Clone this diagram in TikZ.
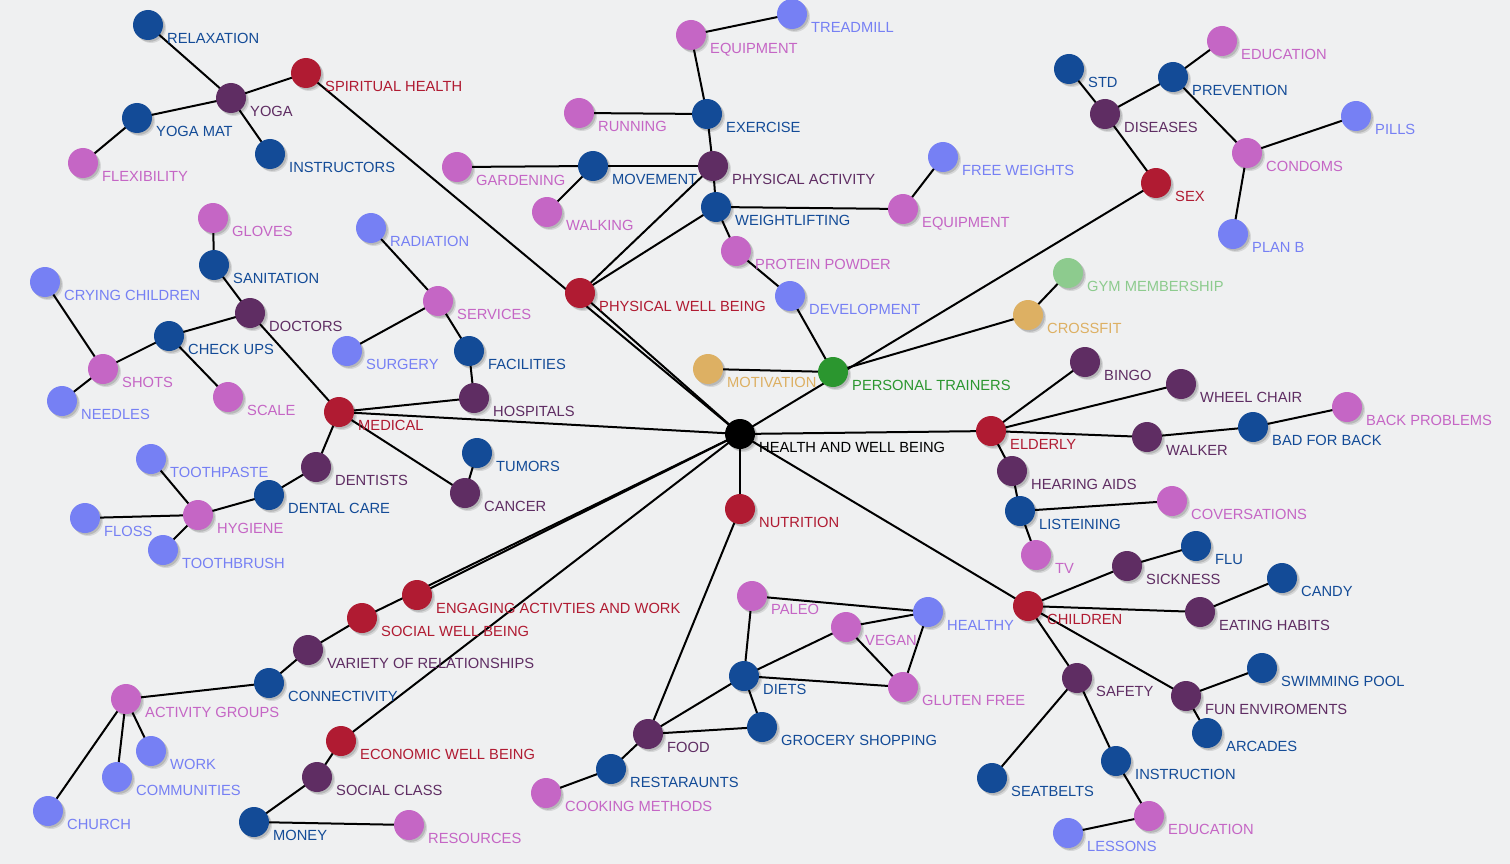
\documentclass[tikz,border=0pt]{standalone}
\usepackage{fontspec}
\setmainfont{Liberation Sans}
\usetikzlibrary{shadows}
\definecolor{bgc}{HTML}{EFF0F1}
\definecolor{cR}{HTML}{B01B32}
\definecolor{cP}{HTML}{5F2D63}
\definecolor{cB}{HTML}{134B97}
\definecolor{cM}{HTML}{C566C5}
\definecolor{cL}{HTML}{7680F4}
\definecolor{cG}{HTML}{2B962F}
\definecolor{cg}{HTML}{8DCB8E}
\definecolor{cO}{HTML}{DDB063}
\definecolor{cK}{HTML}{000000}
\pgfdeclarelayer{bglayer}
\pgfdeclarelayer{edgelayer}
\pgfsetlayers{bglayer,edgelayer,main}
\newcommand\mynode[5]{%
  \node[dot,fill=c#4] (#1) at (#2,#3) {};
  \node[lbl,text=c#4] (#1l) at (#2+19,#3+18.3) {#5};}
\begin{document}
\begin{tikzpicture}[x=1pt,y=-1pt,
  dot/.style={circle,minimum size=30pt,inner sep=0pt,draw=none,
    drop shadow={shadow xshift=3pt,shadow yshift=-3pt,opacity=0.10,fill=black},
    drop shadow={shadow xshift=1.8pt,shadow yshift=-1.8pt,opacity=0.14,fill=black}},
  lbl/.style={anchor=base west,inner sep=0pt,font=\fontsize{14.7}{17}\selectfont},
  edge/.style={line width=2pt,black}]
\begin{pgfonlayer}{bglayer}
\fill[bgc] (0,0) rectangle (1510,864);
\end{pgfonlayer}
\useasboundingbox (0,0) rectangle (1510,864);
% center
\mynode{hwb}{740}{434}{K}{HEALTH AND WELL BEING}
% spiritual
\mynode{spir}{306}{73}{R}{SPIRITUAL HEALTH}
\mynode{yoga}{231}{98}{P}{YOGA}
\mynode{relax}{148}{25}{B}{RELAXATION}
\mynode{ymat}{137}{118}{B}{YOGA MAT}
\mynode{flex}{83}{163}{M}{FLEXIBILITY}
\mynode{instr}{270}{154}{B}{INSTRUCTORS}
% medical
\mynode{med}{339}{412}{R}{MEDICAL}
\mynode{gloves}{213}{218}{M}{GLOVES}
\mynode{sanit}{214}{265}{B}{SANITATION}
\mynode{doc}{250}{313}{P}{DOCTORS}
\mynode{check}{169}{336}{B}{CHECK UPS}
\mynode{shots}{103}{369}{M}{SHOTS}
\mynode{cry}{45}{282}{L}{CRYING CHILDREN}
\mynode{needles}{62}{401}{L}{NEEDLES}
\mynode{scale}{228}{397}{M}{SCALE}
\mynode{radia}{371}{228}{L}{RADIATION}
\mynode{serv}{438}{301}{M}{SERVICES}
\mynode{surg}{347}{351}{L}{SURGERY}
\mynode{facil}{469}{351}{B}{FACILITIES}
\mynode{hosp}{474}{398}{P}{HOSPITALS}
\mynode{tumor}{477}{453}{B}{TUMORS}
\mynode{cancer}{465}{493}{P}{CANCER}
\mynode{dent}{316}{467}{P}{DENTISTS}
\mynode{dcare}{269}{495}{B}{DENTAL CARE}
\mynode{hyg}{198}{515}{M}{HYGIENE}
\mynode{paste}{151}{459}{L}{TOOTHPASTE}
\mynode{floss}{85}{518}{L}{FLOSS}
\mynode{brush}{163}{550}{L}{TOOTHBRUSH}
% physical
\mynode{pwb}{580}{293}{R}{PHYSICAL WELL BEING}
\mynode{pact}{713}{166}{P}{PHYSICAL ACTIVITY}
\mynode{exer}{707}{114}{B}{EXERCISE}
\mynode{equip}{691}{35}{M}{EQUIPMENT}
\mynode{tread}{792}{14}{L}{TREADMILL}
\mynode{run}{579}{113}{M}{RUNNING}
\mynode{move}{593}{166}{B}{MOVEMENT}
\mynode{garden}{457}{167}{M}{GARDENING}
\mynode{walk}{547}{212}{M}{WALKING}
\mynode{wlift}{716}{207}{B}{WEIGHTLIFTING}
\mynode{equipb}{903}{209}{M}{EQUIPMENT}
\mynode{free}{943}{157}{L}{FREE WEIGHTS}
\mynode{prot}{736}{251}{M}{PROTEIN POWDER}
\mynode{devel}{790}{296}{L}{DEVELOPMENT}
\mynode{pt}{833}{372}{G}{PERSONAL TRAINERS}
\mynode{motiv}{708}{369}{O}{MOTIVATION}
\mynode{cross}{1028}{315}{O}{CROSSFIT}
\mynode{gym}{1068}{273}{g}{GYM MEMBERSHIP}
% sex
\mynode{sex}{1156}{183}{R}{SEX}
\mynode{dis}{1105}{114}{P}{DISEASES}
\mynode{std}{1069}{69}{B}{STD}
\mynode{prev}{1173}{77}{B}{PREVENTION}
\mynode{educa}{1222}{41}{M}{EDUCATION}
\mynode{cond}{1247}{153}{M}{CONDOMS}
\mynode{pills}{1356}{116}{L}{PILLS}
\mynode{planb}{1233}{234}{L}{PLAN B}
% elderly
\mynode{eld}{991}{431}{R}{ELDERLY}
\mynode{bingo}{1085}{362}{P}{BINGO}
\mynode{wheel}{1181}{384}{P}{WHEEL CHAIR}
\mynode{walker}{1147}{437}{P}{WALKER}
\mynode{bad}{1253}{427}{B}{BAD FOR BACK}
\mynode{backp}{1347}{407}{M}{BACK PROBLEMS}
\mynode{hear}{1012}{471}{P}{HEARING AIDS}
\mynode{listen}{1020}{511}{B}{LISTEINING}
\mynode{conv}{1172}{501}{M}{COVERSATIONS}
\mynode{tv}{1036}{555}{M}{TV}
% children
\mynode{child}{1028}{606}{R}{CHILDREN}
\mynode{sick}{1127}{566}{P}{SICKNESS}
\mynode{flu}{1196}{546}{B}{FLU}
\mynode{eat}{1200}{612}{P}{EATING HABITS}
\mynode{candy}{1282}{578}{B}{CANDY}
\mynode{safety}{1077}{678}{P}{SAFETY}
\mynode{seat}{992}{778}{B}{SEATBELTS}
\mynode{instn}{1116}{761}{B}{INSTRUCTION}
\mynode{educb}{1149}{816}{M}{EDUCATION}
\mynode{lessons}{1068}{833}{L}{LESSONS}
\mynode{fun}{1186}{696}{P}{FUN ENVIROMENTS}
\mynode{swim}{1262}{668}{B}{SWIMMING POOL}
\mynode{arcade}{1207}{733}{B}{ARCADES}
% nutrition
\mynode{nutr}{740}{509}{R}{NUTRITION}
\mynode{food}{648}{734}{P}{FOOD}
\mynode{diets}{744}{676}{B}{DIETS}
\mynode{groc}{762}{727}{B}{GROCERY SHOPPING}
\mynode{rest}{611}{769}{B}{RESTARAUNTS}
\mynode{cook}{546}{793}{M}{COOKING METHODS}
\mynode{paleo}{752}{596}{M}{PALEO}
\mynode{vegan}{846}{627}{M}{VEGAN}
\mynode{healthy}{928}{612}{L}{HEALTHY}
\mynode{gluten}{903}{687}{M}{GLUTEN FREE}
% social
\mynode{engage}{417}{595}{R}{ENGAGING ACTIVTIES AND WORK}
\mynode{social}{362}{618}{R}{SOCIAL WELL BEING}
\mynode{variety}{308}{650}{P}{VARIETY OF RELATIONSHIPS}
\mynode{conn}{269}{683}{B}{CONNECTIVITY}
\mynode{agroup}{126}{699}{M}{ACTIVITY GROUPS}
\mynode{work}{151}{751}{L}{WORK}
\mynode{comm}{117}{777}{L}{COMMUNITIES}
\mynode{church}{48}{811}{L}{CHURCH}
% economic
\mynode{econ}{341}{741}{R}{ECONOMIC WELL BEING}
\mynode{sclass}{317}{777}{P}{SOCIAL CLASS}
\mynode{money}{254}{822}{B}{MONEY}
\mynode{resou}{409}{825}{M}{RESOURCES}
\begin{pgfonlayer}{edgelayer}
\foreach \a/\b in {
  spir/hwb, pwb/hwb, med/hwb, engage/hwb, social/hwb, econ/hwb, nutr/hwb,
  sex/hwb, eld/hwb, child/hwb,
  spir/yoga, yoga/relax, yoga/ymat, yoga/instr, ymat/flex,
  med/doc, doc/sanit, sanit/gloves, doc/check, check/shots, check/scale,
  shots/cry, shots/needles, med/hosp, hosp/facil, facil/serv, serv/radia,
  serv/surg, med/cancer, cancer/tumor, med/dent, dent/dcare, dcare/hyg,
  hyg/paste, hyg/floss, hyg/brush,
  pwb/pact, pwb/wlift, pact/exer, pact/move, pact/wlift, exer/equip,
  equip/tread, exer/run, move/garden, move/walk, wlift/equipb, equipb/free,
  wlift/prot, prot/devel, devel/pt, motiv/pt, pt/cross, cross/gym,
  sex/dis, dis/std, dis/prev, prev/educa, prev/cond, cond/pills, cond/planb,
  eld/bingo, eld/wheel, eld/walker, walker/bad, bad/backp, eld/hear,
  hear/listen, listen/conv, listen/tv,
  child/sick, sick/flu, child/eat, eat/candy, child/safety, safety/seat,
  safety/instn, instn/educb, educb/lessons, child/fun, fun/swim, fun/arcade,
  nutr/food, food/diets, food/groc, food/rest, rest/cook, diets/groc,
  diets/paleo, diets/vegan, diets/gluten, paleo/healthy, vegan/healthy,
  vegan/gluten, gluten/healthy,
  social/variety, variety/conn, conn/agroup, agroup/work, agroup/comm,
  agroup/church, econ/sclass, sclass/money, money/resou}
  \draw[edge] (\a.center) -- (\b.center);
\end{pgfonlayer}
\end{tikzpicture}
\end{document}
